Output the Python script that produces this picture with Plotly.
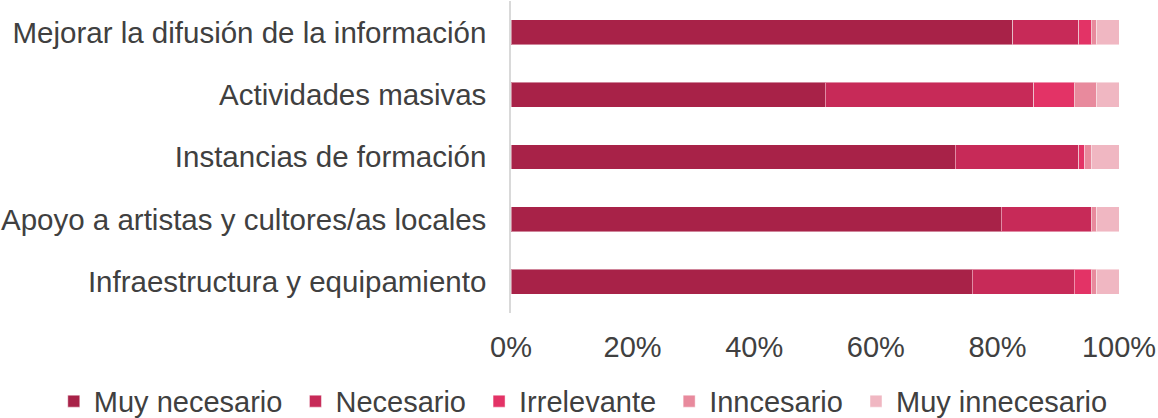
import plotly.graph_objects as go

categories = [
    "Mejorar la difusión de la información",
    "Actividades masivas",
    "Instancias de formación",
    "Apoyo a artistas y cultores/as locales",
    "Infraestructura y equipamiento",
]
series_names = ["Muy necesario", "Necesario", "Irrelevante", "Inncesario", "Muy innecesario"]
muy_necesario = [82.5, 51.7, 73.1, 80.6, 75.9]
necesario = [10.9, 34.3, 20.3, 14.8, 16.7]
irrelevante = [2.0, 6.6, 1.0, 0.0, 2.8]
inncesario = [0.9, 3.7, 1.0, 0.9, 0.9]
muy_innecesario = [3.7, 3.7, 4.6, 3.7, 3.7]
colors = ["#A82248", "#C72A58", "#E33366", "#E88A9D", "#F0B7C2"]
x_ticks = [0, 20, 40, 60, 80, 100]
x_tick_labels = ["0%", "20%", "40%", "60%", "80%", "100%"]

series_values = [muy_necesario, necesario, irrelevante, inncesario, muy_innecesario]

FONT = "Liberation Sans, Arial, sans-serif"
TEXT = "#404040"
NBSP = "\u00a0"

fig = go.Figure()
for name, vals, col in zip(series_names, series_values, colors):
    fig.add_trace(go.Bar(
        y=categories, x=vals, name=name + NBSP, orientation="h",
        marker=dict(color=col, line=dict(color="rgba(255,255,255,0.45)", width=1)),
        hovertemplate="%{y}<br>" + name + ": %{x}%<extra></extra>",
    ))

fig.update_layout(
    barmode="stack",
    bargap=0.6,
    width=1158, height=418,
    margin=dict(l=511, r=39, t=1, b=105, autoexpand=False),
    paper_bgcolor="white", plot_bgcolor="white",
    font=dict(family=FONT, size=29, color=TEXT),
    legend=dict(
        orientation="h",
        x=-0.752, xanchor="left", y=-0.283, yanchor="middle",
        traceorder="normal",
        font=dict(family=FONT, size=29, color=TEXT),
        itemclick=False, tracegroupgap=0,
    ),
    showlegend=True,
)
fig.update_xaxes(
    range=[0, 100], tickvals=x_ticks, ticktext=x_tick_labels,
    showgrid=False, zeroline=False, showline=False,
    tickfont=dict(family=FONT, size=29, color=TEXT),
    ticklabelstandoff=14, automargin=False,
)
fig.update_yaxes(
    categoryorder="array", categoryarray=categories, autorange="reversed",
    showgrid=False, zeroline=False, showline=True, linecolor="#D9D9D9", linewidth=1.5,
    tickfont=dict(family=FONT, size=29.5, color=TEXT),
    ticklabelstandoff=17, automargin=False,
)

fig.write_html(
    "out.html",
    config={"displayModeBar": False},
    post_script="document.body.style.margin='0';document.body.style.padding='0';",
)
